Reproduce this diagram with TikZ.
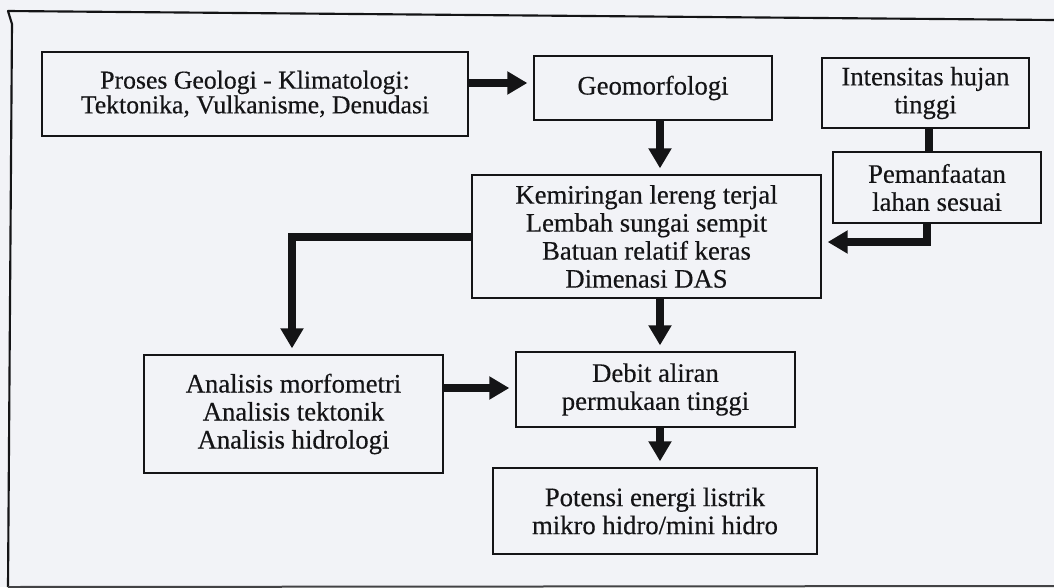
\documentclass[tikz,border=0pt]{standalone}
\usepackage{fontspec}
\setmainfont[FakeBold=0.4]{Liberation Serif}
\usetikzlibrary{arrows.meta}
\definecolor{paper}{RGB}{242,243,247}
\definecolor{ink}{RGB}{20,20,22}
\tikzset{
  box/.style={draw=ink, line width=2pt, rectangle, inner sep=0pt, align=center,
    font=\fontsize{20}{21}\selectfont, text=ink},
  arr/.style={draw=ink, line width=6.5pt, line join=miter,
    -{Triangle[width=16.5pt,length=15pt]}, shorten >=4pt},
  link/.style={draw=ink, line width=6pt},
  frame/.style={draw=ink, line width=1.6pt, line join=round}
}
\begin{document}
\begin{tikzpicture}[x=0.75pt,y=-0.75pt]
\fill[paper] (0,0) rectangle (1054,587);
\useasboundingbox (0,0) rectangle (1054,587);
% outer frame
\coordinate (f1) at (1054,20);
\coordinate (f2) at (8,11);
\coordinate (f3) at (12,24);
\coordinate (f4) at (8,587);
\coordinate (f5) at (1054,586);
\draw[frame] (f1) -- (f2) -- (f3) -- (f4);
\draw[draw=ink!80, line width=1.5pt] (f4) -- (f5);
% boxes
\node[box, minimum width=426*0.75pt, minimum height=84*0.75pt,
  font=\fontsize{19.3}{17.5}\selectfont] (A) at (255,94)
  {Proses Geologi - Klimatologi:\\Tektonika, Vulkanisme, Denudasi};
\node[box, minimum width=238*0.75pt, minimum height=64*0.75pt] (G) at (653,88) {Geomorfologi};
\node[box, minimum width=207*0.75pt, minimum height=70*0.75pt] (I) at (925.5,93) {Intensitas hujan\\tinggi};
\node[box, minimum width=208*0.75pt, minimum height=71*0.75pt] (P) at (937,187.5) {Pemanfaatan\\lahan sesuai};
\node[box, minimum width=349*0.75pt, minimum height=123*0.75pt] (K) at (646.5,236.5)
  {Kemiringan lereng terjal\\Lembah sungai sempit\\Batuan relatif keras\\Dimenasi DAS};
\node[box, minimum width=299*0.75pt, minimum height=118*0.75pt] (N) at (293.5,414)
  {Analisis morfometri\\Analisis tektonik\\Analisis hidrologi};
\node[box, minimum width=279*0.75pt, minimum height=75*0.75pt] (D) at (655.5,389.5)
  {Debit aliran\\permukaan tinggi};
\node[box, minimum width=324*0.75pt, minimum height=86*0.75pt] (E) at (655,511)
  {Potensi energi listrik\\mikro hidro/mini hidro};
% guide coordinates
\coordinate (row1) at (0,83);
\coordinate (col) at (660,0);
\coordinate (colP) at (929,0);
\coordinate (colPK) at (927,0);
\coordinate (rowPK) at (0,242);
\coordinate (rowKN) at (0,237);
\coordinate (colKN) at (292,0);
\coordinate (rowND) at (0,388);
% connectors
\draw[arr] (A.east |- row1) -- (G.west |- row1);
\draw[arr] (G.south -| col) -- (K.north -| col);
\draw[link] (I.south -| colP) -- (P.north -| colP);
\draw[arr] (P.south -| colPK) -- (colPK |- rowPK) -- (K.east |- rowPK);
\draw[arr] (K.west |- rowKN) -- (colKN |- rowKN) -- (N.north -| colKN);
\draw[arr] (N.east |- rowND) -- (D.west |- rowND);
\draw[arr] (K.south -| col) -- (D.north -| col);
\draw[arr] (D.south -| col) -- (E.north -| col);
\end{tikzpicture}
\end{document}
